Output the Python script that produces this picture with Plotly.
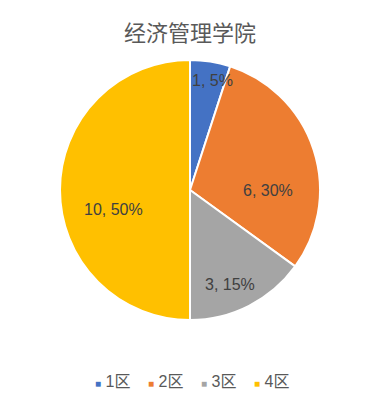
import math
import plotly.graph_objects as go

title = "经济管理学院"
categories = ["1区", "2区", "3区", "4区"]
values = [1, 6, 3, 10]
colors = ["#4472C4", "#ED7D31", "#A5A5A5", "#FFC000"]

# page is drawn with an 8px body margin
OFF = 8
W, H = 382 - OFF, 408 - OFF
cx, cy, R = 190 - OFF, 190 - OFF, 130
label_r = [0.86, 0.60, 0.79, 0.61]      # label radius as fraction of R
label_nudge = [2.8, 18.7, 4.3, -14.3]   # degrees added to slice mid-angle

FONT = "Liberation Sans, Arial, Noto Sans CJK SC, sans-serif"

fig = go.Figure()
fig.add_trace(go.Pie(
    labels=categories, values=values, sort=False, direction="clockwise", rotation=0,
    marker=dict(colors=colors, line=dict(color="white", width=2)),
    textinfo="none", hoverinfo="label+value+percent", showlegend=False,
    domain=dict(x=[(cx - R) / W, (cx + R) / W], y=[(H - cy - R) / H, (H - cy + R) / H]),
))

# legend entries: small coloured square inside the text
for c, col in zip(categories, colors):
    fig.add_trace(go.Scatter(
        x=[None], y=[None], mode="markers",
        name=f'<span style="color:{col};font-size:10px">■</span> {c}',
        marker=dict(size=1, color="rgba(0,0,0,0)"), showlegend=True, hoverinfo="skip"))
# empty spacer entry so the last label is not clipped
fig.add_trace(go.Scatter(x=[None], y=[None], mode="markers", name=" ",
                         marker=dict(size=1, color="rgba(0,0,0,0)"), showlegend=True, hoverinfo="skip"))

total = sum(values)
cum = 0
for v, fr, nd in zip(values, label_r, label_nudge):
    mid = (cum + v / 2) / total * 2 * math.pi + math.radians(nd)
    cum += v
    px = cx + fr * R * math.sin(mid)
    py = cy - fr * R * math.cos(mid)
    fig.add_annotation(x=px / W, y=1 - py / H, xref="paper", yref="paper",
                       xanchor="center", yanchor="middle",
                       text=f"{v}, {round(v / total * 100)}%", showarrow=False,
                       font=dict(size=16, color="#404040", family=FONT))

fig.update_layout(
    width=W, height=H, margin=dict(l=0, r=0, t=0, b=0),
    paper_bgcolor="white", plot_bgcolor="white",
    title=dict(text=title, x=(190 - OFF) / W, xanchor="center", y=1 - (33 - OFF) / H, yanchor="middle",
               font=dict(size=22, color="#595959", family="Noto Sans CJK SC, sans-serif")),
    xaxis=dict(visible=False), yaxis=dict(visible=False),
    legend=dict(orientation="h", x=(100 - OFF - 45) / W, xanchor="left",
                y=1 - (381 - OFF) / H, yanchor="middle",
                font=dict(size=16, color="#595959", family=FONT),
                itemwidth=30, entrywidth=8, itemclick=False),
)
fig.write_html("out.html")
